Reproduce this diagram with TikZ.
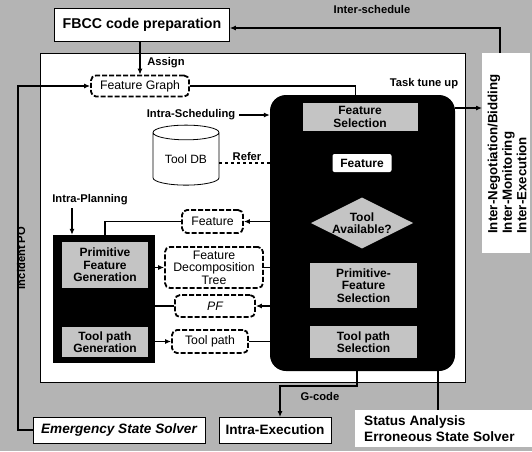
\documentclass[tikz,border=0pt]{standalone}
\usepackage{fontspec}
\setmainfont{Liberation Sans}
\usetikzlibrary{shapes.geometric,arrows.meta}
\definecolor{halftone}{HTML}{B4B4B4}
\definecolor{panelgray}{HTML}{C4C4C4}
\tikzset{
  conn/.style={line width=1.1pt},
  arr/.style={conn,-{Latex[length=6pt,width=5pt]}},
  whitebox/.style={draw,line width=0.6pt,fill=white,inner sep=0pt},
  dbox/.style={draw,line width=1.8pt,dash pattern=on 5pt off 2pt,rounded corners=5pt,fill=white,
    align=center,inner sep=0pt,font=\fontsize{12.3}{12.5}\selectfont},
  graybox/.style={fill=panelgray,inner sep=0pt,align=center,font=\bfseries\fontsize{12}{12.5}\selectfont},
  lbl/.style={inner sep=0pt,font=\bfseries\fontsize{11.2}{12}\selectfont},
  solver/.style={font=\bfseries\fontsize{13.6}{16}\selectfont},
  solveri/.style={font=\bfseries\itshape\fontsize{13.6}{16}\selectfont},
}
\begin{document}
\begin{tikzpicture}[x=1pt,y=-1pt]
\useasboundingbox (0,0) rectangle (532,451);
\fill[halftone] (0,0) rectangle (532,451);

% white working panel and the inter-agent panel
\node[whitebox,minimum width=425pt,minimum height=329pt] (panel) at (252.5,217.5) {};
\node[whitebox,draw=none,minimum width=48pt,minimum height=200pt] (rp) at (506,153) {};
\node[rotate=90,anchor=west,align=left,font=\bfseries\fontsize{13.3}{14.5}\selectfont,inner sep=0pt] (rptxt) at (507,234)
  {Inter-Negotiation/Bidding\\Inter-Monitoring\\Inter-Execution};

% code preparation and feature graph
\node[whitebox,minimum width=175pt,minimum height=33pt,font=\bfseries\fontsize{14.2}{15}\selectfont] (fbcc) at (142,25) {FBCC code preparation};
\node[dbox,minimum width=98pt,minimum height=21pt] (fg) at (140,86) {Feature Graph};

% scheduling block
\node[fill=black,rounded corners=16pt,minimum width=185pt,minimum height=276pt,inner sep=0pt] (big) at (362.5,233) {};
\node[graybox,minimum width=115pt,minimum height=28pt] (fs) at (360,117) {Feature\\Selection};
\node[fill=white,rounded corners=2pt,minimum width=59pt,minimum height=18pt,inner sep=0pt,
  font=\bfseries\fontsize{12}{12.5}\selectfont] (feat) at (362,163) {Feature};
\node[diamond,aspect=2,fill=panelgray,minimum width=100pt,minimum height=50pt,inner sep=0pt,align=center,
  font=\bfseries\fontsize{12}{12.5}\selectfont] (avail) at (362,223) {Tool\\Available?};
\node[graybox,minimum width=107pt,minimum height=45pt] (pfs) at (363.5,285.5) {Primitive-\\Feature\\Selection};
\node[graybox,minimum width=107pt,minimum height=32pt] (tps) at (363.5,342) {Tool path\\Selection};

% tool database
\node[cylinder,shape border rotate=90,aspect=0.35,draw,line width=0.8pt,fill=white,
  minimum width=66pt,minimum height=60pt,inner sep=0pt,font=\fontsize{12}{12.5}\selectfont] (db) at (186,159) {Tool DB};

% planning block
\node[fill=black,minimum width=102pt,minimum height=128pt,inner sep=0pt] (plan) at (104,299) {};
\node[graybox,minimum width=86pt,minimum height=46pt] (pfg) at (105,265) {Primitive\\Feature\\Generation};
\node[graybox,minimum width=86pt,minimum height=30pt] (tpg) at (105,342) {Tool path\\Generation};

% intermediate data
\node[dbox,minimum width=61pt,minimum height=23pt] (feat2) at (212.5,221.5) {Feature};
\node[dbox,minimum width=98pt,minimum height=41pt] (fdt) at (214,267.5) {Feature\\Decomposition\\Tree};
\node[dbox,minimum width=80pt,minimum height=22pt,font=\itshape\fontsize{12.3}{12.5}\selectfont] (pf) at (215,306) {PF};
\node[dbox,minimum width=76pt,minimum height=23pt] (tp) at (210,341.5) {Tool path};

% solvers along the bottom
\node[whitebox,solveri,minimum width=172pt,minimum height=26pt] (ess) at (119,430) {Emergency State Solver};
\node[whitebox,solver,minimum width=112pt,minimum height=26pt] (ie) at (275,430) {Intra-Execution};
\node[fill=white,minimum width=177pt,minimum height=37pt,inner sep=0pt] (sa) at (443.5,428.5) {};
\node[solver,anchor=west,align=left,inner sep=0pt] (satxt) at (364,428.5)
  {Status Analysis\\Erroneous State Solver};

% labels
\node[lbl] (lsched) at (372,9) {Inter-schedule};
\node[lbl] (lassign) at (166,63) {Assign};
\node[lbl] (ltune) at (424,84) {Task tune up};
\node[lbl] (lintra) at (191,115) {Intra-Scheduling};
\node[lbl] (lrefer) at (247,156) {Refer};
\node[lbl] (lplan) at (90,200) {Intra-Planning};
\node[lbl] (lgcode) at (320,396) {G-code};
\node[lbl,rotate=90] (linc) at (21,258) {Incident PO};

% connector helper points
\coordinate (rtop) at (500,53);
\coordinate (loop) at (18,430);
\coordinate (tuneA) at (455,108);
\coordinate (tuneB) at (482,108);
\coordinate (referA) at (219,163);
\coordinate (referB) at (270,163);
\coordinate (planx) at (72,208);
\coordinate (gA) at (357,370);
\coordinate (gB) at (357,386);
\coordinate (gC) at (280,417);
\coordinate (sA) at (438,366);
\coordinate (sB) at (438,410);

% connectors
\draw[arr] (rtop) |- ([yshift=-3pt]fbcc.east);
\draw[arr] (fbcc.south -| fg.north) -- (fg.north);
\draw[conn] (fg.east) -| ([xshift=-7pt]big.north);
\draw[arr] (ess.west) -- (loop) |- (fg.west);
\draw[arr] (tuneA) -- (tuneB);
\draw[arr] (lintra.east) ++(4pt,0) -- (big.west |- lintra.east);
\draw[conn,dashed] (referA) -- (referB);
\draw[arr] (planx) -- (plan.north -| planx);
\draw[arr] (big.west |- feat2.east) -- (feat2.east);
\draw[conn] (feat2.west) -| ([xshift=1pt]plan.north);
\draw[arr] (plan.east |- fdt.west) -- (fdt.west);
\draw[conn] (fdt.east) -- (big.west |- fdt.east);
\draw[arr] (big.west |- pf.east) -- (pf.east);
\draw[conn] (pf.west) -- (plan.east |- pf.west);
\draw[arr] (plan.east |- tp.west) -- (tp.west);
\draw[conn] (tp.east) -- (big.west |- tp.east);
\draw[arr] (gA) -- (gB) -| (gC);
\draw[conn] (sA) -- (sB);
\end{tikzpicture}
\end{document}
